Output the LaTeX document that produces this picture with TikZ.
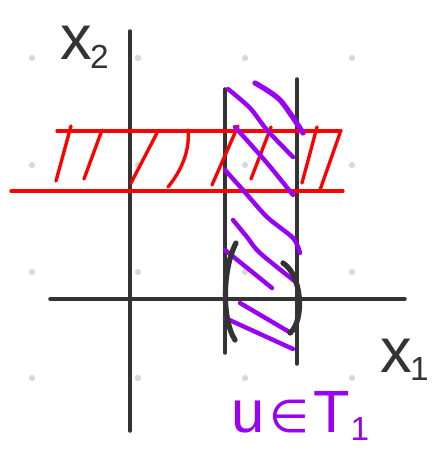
\documentclass[tikz,border=0pt]{standalone}
\usepackage{fontspec}
\setmainfont{Liberation Sans}
\newfontfamily\symfont{DejaVu Sans}
\definecolor{paper}{HTML}{FFFFFF}
\definecolor{ink}{HTML}{333333}
\definecolor{gridgray}{HTML}{D9D9D9}
\definecolor{band}{HTML}{FF0000}
\definecolor{strip}{HTML}{9A00F2}
\newcommand{\DotR}{1.8pt}
\newcommand{\SubOne}[1]{{\fontsize{19}{19}\selectfont\raisebox{-5pt}{#1}}}

\begin{document}
\begin{tikzpicture}[x=0.02cm, y=-0.02cm,
    axis/.style={draw=ink, line width=2pt, line cap=round},
    bandline/.style={draw=band, line width=1.9pt, line cap=round},
    striphatch/.style={draw=strip, line width=2.5pt, line cap=round},
    paren/.style={draw=ink, line width=3pt, line cap=round},
    handlabel/.style={inner sep=0pt, text=ink, font=\fontsize{36}{36}\selectfont},
  ]
\useasboundingbox[fill=paper] (0,0) rectangle (437,466);

% Dotted paper underneath.
\foreach \gx in {32,138,245,352}
  \foreach \gy in {58,165,272,378}
    \fill[gridgray] (\gx,\gy) circle (\DotR);

% Axes and the two walls of the strip.
\coordinate (o) at (130,299);
\draw[axis] (130,31) -- (130,431);
\draw[axis] (50,299) -- (405,299);
\draw[axis] (225,89) -- (225,353);
\draw[axis] (297,79) -- (297,364);

% Red band with its hatching.
\draw[bandline] (57,131) -- (341,131);
\draw[bandline] (11,191) -- (343,191);
\foreach \ax/\ay/\bx/\by in {71/126/56/181, 102/130/84/179, 157/133/131/183,
    238/126/212/185, 271/127/251/179, 317/127/302/183, 340/133/320/190}
  \draw[bandline] (\ax,\ay) -- (\bx,\by);
\draw[bandline] (188,130) .. controls (190,150) and (182,170) .. (168,187);

% Purple hatching inside the strip.
\draw[striphatch] plot[smooth] coordinates {(228,89) (250,108) (267,130) (293,157)};
\draw[striphatch, line width=3pt] plot[smooth] coordinates {(255,83) (280,100) (303,133)};
\draw[striphatch] plot[smooth] coordinates {(235,127) (267,163) (293,195)};
\draw[striphatch] plot[smooth] coordinates {(225,170) (243,190) (267,217) (293,238) (300,253)};
\draw[striphatch] plot[smooth] coordinates {(233,220) (247,237) (260,253) (297,283)};
\draw[striphatch] (225,250) -- (272,288);
\draw[striphatch] (240,303) -- (291,333);
\draw[striphatch] (225,318) -- (293,349);

% Brackets round the interval.
\draw[paren] (236,243) .. controls (222,270) and (222,320) .. (235,340);
\draw[paren] (283,263) .. controls (302,275) and (305,320) .. (290,333);

% Labels.
\node[handlabel, anchor=base west] (xtwo) at (60,60) {x\hspace{-1pt}\SubOne{2}};
\node[handlabel, anchor=base west] (xone) at (380,372) {x\hspace{-1pt}\SubOne{1}};
\node[handlabel, text=strip, font=\fontsize{34}{34}\selectfont, anchor=base west] (member) at (231,432)
  {u\hspace{3pt}{\symfont\fontsize{26}{26}\selectfont ∈}\hspace{2pt}T\hspace{0.5pt}\SubOne{1}};

\end{tikzpicture}
\end{document}
